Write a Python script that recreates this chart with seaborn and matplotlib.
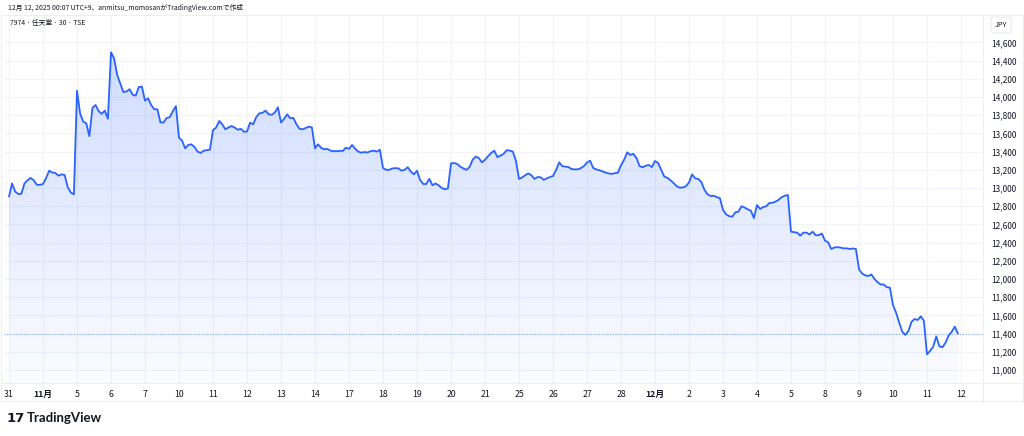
import numpy as np
import pandas as pd
import seaborn as sns
import matplotlib.pyplot as plt
from matplotlib.colors import LinearSegmentedColormap
from matplotlib.lines import Line2D

# 30-minute closes, 11 bars per trading day
week_oct31 = [
    12905, 13050, 12960, 12934, 12936, 13050, 13085, 13110, 13085, 13035, 13035,  # 10/31
    13044, 13110, 13190, 13170, 13165, 13135, 13150, 13143, 13010, 12950, 12930,  # 11/4
    14070, 13820, 13729, 13711, 13570, 13880, 13912, 13845, 13815, 13850, 13760,  # 11/5
    14491, 14425, 14242, 14150, 14055, 14060, 14085, 14025, 14015, 14110, 14115,  # 11/6
    13960, 13986, 13912, 13865, 13865, 13720, 13720, 13770, 13777, 13845, 13900,  # 11/7
]
week_nov10 = [
    13553, 13520, 13436, 13473, 13480, 13450, 13400, 13385, 13410, 13415, 13421,
    13638, 13663, 13737, 13700, 13645, 13665, 13681, 13665, 13640, 13650, 13619,
    13620, 13718, 13700, 13780, 13821, 13825, 13850, 13810, 13805, 13830, 13887,
    13720, 13760, 13810, 13766, 13770, 13700, 13650, 13645, 13660, 13674, 13665,
    13436, 13480, 13440, 13425, 13430, 13410, 13405, 13405, 13408, 13407, 13443,
]
week_nov17 = [
    13430, 13473, 13430, 13400, 13388, 13395, 13390, 13405, 13410, 13400, 13420,
    13220, 13200, 13200, 13215, 13218, 13216, 13190, 13200, 13228, 13180, 13150,
    13190, 13088, 13044, 13044, 13100, 13030, 13050, 13030, 13000, 12986, 12995,
    13270, 13275, 13264, 13234, 13215, 13200, 13230, 13310, 13345, 13330, 13282,
    13310, 13350, 13385, 13410, 13340, 13355, 13375, 13415, 13412, 13400, 13300,
]
week_nov25 = [
    13100, 13115, 13140, 13160, 13140, 13100, 13120, 13118, 13090, 13106, 13120,
    13132, 13198, 13282, 13240, 13235, 13230, 13208, 13205, 13205, 13218, 13240,
    13280, 13300, 13220, 13205, 13195, 13182, 13170, 13160, 13155, 13163, 13168,
    13250, 13310, 13392, 13363, 13375, 13330, 13240, 13228, 13245, 13253, 13230,
]
week_dec1 = [
    13297, 13275, 13200, 13125, 13112, 13085, 13055, 13020, 13004, 13006, 13020,
    13060, 13150, 13106, 13100, 13065, 12980, 12930, 12912, 12915, 12900, 12887,
    12760, 12710, 12690, 12685, 12733, 12740, 12800, 12785, 12765, 12752, 12670,
    12813, 12770, 12790, 12800, 12835, 12838, 12850, 12870, 12900, 12915, 12923,
    12520, 12515, 12509, 12476, 12509, 12510, 12490, 12520, 12480, 12482, 12500,
]
week_dec8 = [
    12420, 12405, 12330, 12345, 12350, 12345, 12337, 12337, 12330, 12335, 12330,
    12107, 12060, 12040, 12033, 12050, 12000, 11965, 11940, 11940, 11910, 11905,
    11714, 11630, 11520, 11420, 11385, 11430, 11530, 11560, 11549, 11590, 11540,
    11172, 11210, 11256, 11370, 11260, 11250, 11300, 11380, 11420, 11476, 11400,
]

day_labels = ["31", "11月", "5", "6", "7", "10", "11", "12", "13", "14", "17", "18",
              "19", "20", "21", "25", "26", "27", "28", "12月", "2", "3", "4", "5",
              "8", "9", "10", "11", "12"]
price_ticks = list(range(11000, 14601, 200))
bars_per_day = 11

closes = week_oct31 + week_nov10 + week_nov17 + week_nov25 + week_dec1 + week_dec8
df = pd.DataFrame({"bar": np.arange(len(closes)), "close": closes})
last_price = closes[-1]

W, H = 1024, 436
sns.set_style("white")
plt.rcParams["font.family"] = ["Noto Sans CJK JP", "DejaVu Sans"]

fig = plt.figure(figsize=(W / 100, H / 100), dpi=100)
fig.patch.set_facecolor("white")

# plot area in pixels
left, right, top, bottom = 4, 983, 15, 383
ax = fig.add_axes([left / W, 1 - bottom / H, (right - left) / W, (bottom - top) / H])

line_color = "#2962FF"
text_color = "#131722"
grid_color = "#f0f3fa"

px_per_bar = 34.0 / bars_per_day
x_lo = (left - 9) / px_per_bar
x_hi = (right - 9) / px_per_bar
y_per_px = 200 / 18.2
y_lo = 11000 - (bottom - 370) * y_per_px
y_hi = 11000 + (370 - top) * y_per_px
ax.set_xlim(x_lo, x_hi)
ax.set_ylim(y_lo, y_hi)

# grid
day_pos = np.arange(len(day_labels)) * bars_per_day
for xp in day_pos:
    ax.axvline(xp, color=grid_color, lw=0.8, zorder=0)
for yp in price_ticks:
    ax.axhline(yp, color=grid_color, lw=0.8, zorder=0)

# gradient area fill
poly = ax.fill_between(df["bar"], df["close"], y_lo, color="none", lw=0)
cmap = LinearSegmentedColormap.from_list(
    "area", [(41 / 255, 98 / 255, 1, 0.02), (41 / 255, 98 / 255, 1, 0.22)])
grad = np.linspace(0, 1, 256).reshape(-1, 1)
img = ax.imshow(grad, cmap=cmap, aspect="auto", origin="lower",
                extent=[df["bar"].min(), df["bar"].max(), y_lo, max(closes)], zorder=1)
img.set_clip_path(poly.get_paths()[0], transform=ax.transData)

sns.lineplot(data=df, x="bar", y="close", color=line_color, lw=1.3, ax=ax, zorder=3)

# last price line
ax.axhline(last_price, color=line_color, lw=0.8, ls=(0, (1, 1.5)), alpha=0.5, zorder=2)

ax.set_xticks(day_pos)
ax.set_xticklabels(day_labels)
for lbl in ax.get_xticklabels():
    if "月" in lbl.get_text():
        lbl.set_fontweight("bold")
ax.yaxis.tick_right()
ax.set_yticks(price_ticks)
ax.set_yticklabels([f"{v:,}" for v in price_ticks])
ax.tick_params(axis="x", length=0, pad=5, labelsize=6.3, labelcolor=text_color)
ax.tick_params(axis="y", length=0, pad=6, labelsize=6.0, labelcolor=text_color)
ax.set_xlabel("")
ax.set_ylabel("")
for s in ax.spines.values():
    s.set_visible(False)

# frame lines
frame = "#eceef3"
def hline(y, x0, x1):
    fig.add_artist(Line2D([x0 / W, x1 / W], [1 - y / H, 1 - y / H], color=frame, lw=0.7))
def vline(x, y0, y1):
    fig.add_artist(Line2D([x / W, x / W], [1 - y0 / H, 1 - y1 / H], color=frame, lw=0.7))
hline(15, 1, 1023)
hline(401, 1, 1023)
vline(1, 15, 401)
vline(1023, 15, 401)
vline(983, 15, 401)
hline(383, 1, 1023)

# texts
fig.text(8 / W, 1 - 8 / H, "12月 12, 2025 00:07 UTC+9、anmitsu_momosanがTradingView.comで作成",
         fontsize=4.9, color=text_color, va="center", ha="left")
fig.text(10 / W, 1 - 23 / H, "7974 · 任天堂 · 30 · TSE",
         fontsize=4.9, color=text_color, va="center", ha="left")
fig.text(1001 / W, 1 - 25 / H, "JPY", fontsize=5.2, color=text_color, va="center", ha="center",
         bbox=dict(boxstyle="round,pad=0.55,rounding_size=0.4", fc="white", ec="#e0e3eb", lw=0.6))
fig.text(7 / W, 1 - 418 / H, "17", fontsize=9.5, fontweight="heavy", color=text_color,
         va="center", ha="left", family=["DejaVu Sans"])
fig.text(27 / W, 1 - 418 / H, "TradingView", fontsize=9.5, fontweight="bold", color=text_color,
         va="center", ha="left", family=["Lato", "DejaVu Sans"])

fig.savefig("out.png", dpi=100)
